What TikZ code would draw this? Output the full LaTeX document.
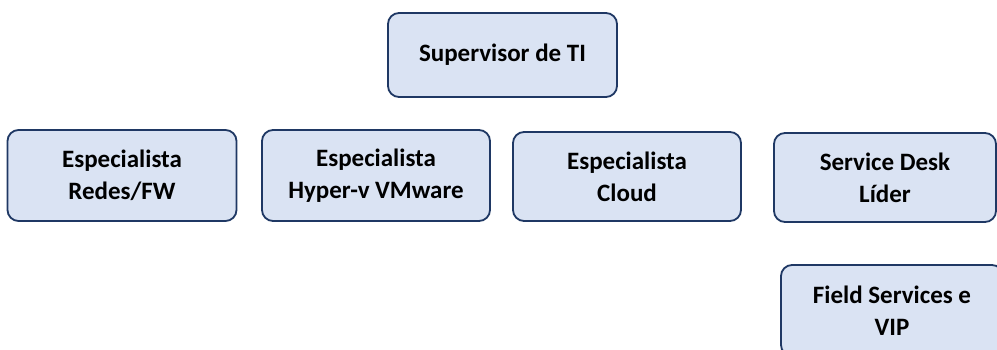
\documentclass[tikz,border=0pt]{standalone}
\usepackage{fontspec}
\setmainfont{Carlito}
\begin{document}
\begin{tikzpicture}[x=1pt,y=-1pt,
  box/.style={draw=navy, line width=1.8pt, fill=boxfill, rounded corners=11pt,
    align=center, font=\fontsize{25}{32}\selectfont\bfseries, inner sep=0pt}]
\definecolor{navy}{HTML}{1F3864}
\definecolor{boxfill}{HTML}{DAE3F3}
\useasboundingbox (0,0) rectangle (997,349);
\clip (0,0) rectangle (997,349);
\node[box, minimum width=229pt, minimum height=84pt] (sup) at (502.5,55) {Supervisor de TI};
\node[box, minimum width=229pt, minimum height=91pt] (redes) at (122,175.5) {Especialista\\Redes/FW};
\node[box, minimum width=228pt, minimum height=91pt] (hyper) at (376,175.5) {Especialista\\Hyper-v VMware};
\node[box, minimum width=228pt, minimum height=89pt] (cloud) at (627,176.5) {Especialista\\Cloud};
\node[box, minimum width=222pt, minimum height=89pt] (sd) at (885,177.5) {Service Desk\\Líder};
\node[box, minimum width=222pt, minimum height=91pt] (field) at (892,310.5) {Field Services e\\VIP};
\end{tikzpicture}
\end{document}
